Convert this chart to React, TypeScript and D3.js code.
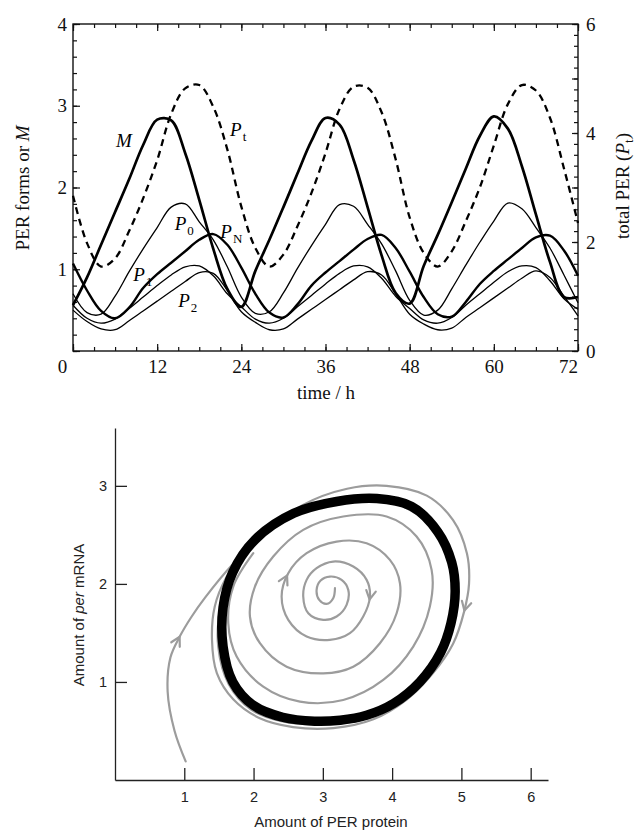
import * as d3 from 'd3';
import { useEffect, useRef } from 'react';

// time axis of the upper panel (hours)
const hours = [0, 2, 4, 6, 8, 10, 12, 14, 16, 18, 20, 22, 24, 26, 28, 30, 32, 34, 36, 38, 40, 42, 44, 46, 48, 50, 52, 54, 56, 58, 60, 62, 64, 66, 68, 70, 72];
const hourLabels = [0, 12, 24, 36, 48, 60, 72];

// per mRNA (left axis)
const mRNA = [0.56, 0.9, 1.3, 1.7, 2.1, 2.52, 2.83, 2.82, 2.42, 1.85, 1.25, 0.76,
  0.54, 0.98, 1.36, 1.76, 2.17, 2.57, 2.85, 2.77, 2.34, 1.76, 1.17, 0.71,
  0.58, 1.04, 1.42, 1.82, 2.23, 2.63, 2.87, 2.72, 2.26, 1.67, 1.09, 0.66, 0.66];
// PER forms (left axis)
const p0 = [0.7, 0.47, 0.45, 0.67, 0.97, 1.25, 1.51, 1.76, 1.8, 1.58, 1.36, 1.03,
  0.66, 0.46, 0.48, 0.71, 1.01, 1.29, 1.55, 1.79, 1.77, 1.55, 1.31, 0.98,
  0.62, 0.44, 0.5, 0.76, 1.05, 1.33, 1.59, 1.81, 1.74, 1.51, 1.26, 0.93, 0.59];
const p1 = [0.56, 0.4, 0.34, 0.39, 0.52, 0.66, 0.8, 0.93, 1.03, 1.04, 0.92, 0.7,
  0.54, 0.39, 0.34, 0.4, 0.54, 0.68, 0.82, 0.95, 1.04, 1.03, 0.89, 0.67,
  0.52, 0.38, 0.34, 0.41, 0.56, 0.7, 0.84, 0.97, 1.04, 1.02, 0.86, 0.64, 0.51];
const p2 = [0.5, 0.36, 0.27, 0.26, 0.37, 0.49, 0.61, 0.73, 0.85, 0.96, 0.95, 0.74,
  0.48, 0.35, 0.26, 0.27, 0.39, 0.51, 0.63, 0.75, 0.87, 0.97, 0.93, 0.7,
  0.45, 0.33, 0.26, 0.28, 0.41, 0.53, 0.65, 0.77, 0.89, 0.98, 0.9, 0.67, 0.43];
const pN = [1.07, 0.74, 0.49, 0.4, 0.53, 0.77, 0.94, 1.08, 1.22, 1.36, 1.43, 1.3,
  1.02, 0.7, 0.47, 0.41, 0.57, 0.8, 0.96, 1.1, 1.24, 1.37, 1.42, 1.26,
  0.97, 0.66, 0.45, 0.42, 0.6, 0.82, 0.98, 1.12, 1.26, 1.39, 1.41, 1.23, 0.92];
// total PER (right axis)
const pTotal = [2.85, 1.98, 1.55, 1.7, 2.2, 2.8, 3.5, 4.35, 4.82, 4.88, 4.48, 3.7,
  2.65, 1.89, 1.55, 1.77, 2.29, 2.9, 3.63, 4.44, 4.85, 4.83, 4.38, 3.52,
  2.45, 1.8, 1.55, 1.83, 2.38, 3.0, 3.77, 4.53, 4.88, 4.78, 4.28, 3.35, 2.35];

// lower panel: phase plane (PER protein, per mRNA)
const cycleProtein = [3.2, 3.78, 4.28, 4.66, 4.86, 4.91, 4.85, 4.7, 4.4, 4.02, 3.63, 3.25, 2.88, 2.42, 2.0, 1.7, 1.56, 1.56, 1.7, 2.02, 2.58];
const cycleMrna = [2.84, 2.87, 2.79, 2.53, 2.22, 1.92, 1.6, 1.3, 1.0, 0.78, 0.66, 0.61, 0.6, 0.64, 0.76, 1.0, 1.36, 1.76, 2.12, 2.45, 2.72];

const outerProtein = [1.02, 0.86, 0.76, 0.8, 0.94, 1.1, 1.3, 1.7, 2.19, 2.7, 3.35, 3.92, 4.5, 4.88, 5.08, 5.11, 5.04, 4.88, 4.59, 4.21, 3.73, 3.15, 2.57, 2.09, 1.71, 1.47, 1.4, 1.44, 1.61, 1.9,
  2.6, 3.78, 4.66, 4.9, 4.75, 4.4, 3.63, 2.88, 2.4, 1.96, 1.64, 1.49, 1.52, 1.66];
const outerMrna = [0.19, 0.5, 0.9, 1.25, 1.47, 1.66, 1.86, 2.2, 2.52, 2.8, 2.97, 3.0, 2.9, 2.65, 2.31, 2.0, 1.72, 1.39, 1.09, 0.82, 0.62, 0.53, 0.54, 0.63, 0.82, 1.09, 1.43, 1.77, 2.07, 2.35,
  2.75, 2.88, 2.52, 1.92, 1.33, 0.96, 0.63, 0.57, 0.6, 0.72, 0.98, 1.36, 1.76, 2.08];

const spiralProtein = [3.175, 3.15, 3.055, 2.948, 2.91, 2.968, 3.102, 3.271, 3.367, 3.343, 3.199, 3.006, 2.79, 2.717, 2.766, 2.91, 3.15, 3.439, 3.632, 3.68, 3.583, 3.391, 3.102, 2.766, 2.501, 2.405, 2.501, 2.766, 3.199, 3.632, 3.968, 4.113, 4.065, 3.824, 3.439, 3.006, 2.477, 2.092, 1.948, 2.02, 2.284, 2.717, 3.294, 3.92, 4.353, 4.57, 4.545, 4.305, 3.872, 3.294, 2.67, 2.14, 1.756, 1.635, 1.707, 1.996];
const spiralMrna = [1.956, 1.854, 1.796, 1.837, 1.939, 2.034, 2.075, 2.041, 1.939, 1.786, 1.667, 1.633, 1.701, 1.871, 2.041, 2.16, 2.228, 2.177, 2.041, 1.871, 1.667, 1.497, 1.429, 1.463, 1.633, 1.871, 2.109, 2.313, 2.432, 2.415, 2.245, 2.007, 1.701, 1.395, 1.156, 1.088, 1.156, 1.395, 1.667, 1.973, 2.279, 2.551, 2.687, 2.687, 2.483, 2.143, 1.769, 1.361, 1.02, 0.816, 0.799, 0.952, 1.259, 1.599, 1.973, 2.313];

// where the direction arrows sit: [protein, mRNA]
const outerArrows = [[0.94, 1.46], [5.04, 1.73]];
const spiralArrows = [[2.5, 2.08], [3.66, 1.84]];

const serif = "'Liberation Serif', 'Times New Roman', serif";
const sans = "'Liberation Sans', Arial, sans-serif";

export default function App() {
  const svgRef = useRef<SVGSVGElement>(null);

  useEffect(() => {
    const svg = d3.select(svgRef.current);
    svg.selectAll('*').remove();

    // ---------- upper panel ----------
    const x = d3.scaleLinear().domain([0, 72]).range([73, 578]);
    const yL = d3.scaleLinear().domain([0, 4]).range([351, 24]);
    const yR = d3.scaleLinear().domain([0, 6]).range([351, 24]);

    const styleAxis = (g: any, font: string, size: number) => {
      g.select('.domain').remove();
      g.selectAll('line').attr('stroke', '#111').attr('stroke-width', 1.2);
      g.selectAll('text').attr('font-family', font).attr('font-size', size).attr('fill', '#111');
    };

    const top = svg.append('g');
    const blank = () => '';

    top.append('g').attr('transform', 'translate(0,351)')
      .call(d3.axisBottom(x).tickValues(d3.range(0, 73, 3)).tickSize(-4).tickFormat(blank))
      .call((g: any) => styleAxis(g, serif, 19));
    top.append('g').attr('transform', 'translate(0,351)')
      .call(d3.axisBottom(x).tickValues(hourLabels).tickSize(-7).tickPadding(8.5).tickFormat(d3.format('d')))
      .call((g: any) => styleAxis(g, serif, 19))
      .call((g: any) => g.selectAll('.tick text').attr('dx', (d: number) => d === 0 ? -11 : d === 72 ? -10 : 0));
    top.append('g').attr('transform', 'translate(0,24)')
      .call(d3.axisTop(x).tickValues(d3.range(0, 73, 3)).tickSize(-4).tickFormat(blank))
      .call((g: any) => styleAxis(g, serif, 19));
    top.append('g').attr('transform', 'translate(0,24)')
      .call(d3.axisTop(x).tickValues(hourLabels).tickSize(-7).tickFormat(blank))
      .call((g: any) => styleAxis(g, serif, 19));

    top.append('g').attr('transform', 'translate(73,0)')
      .call(d3.axisLeft(yL).tickValues(d3.range(0, 4.01, 0.2)).tickSize(-4).tickFormat(blank))
      .call((g: any) => styleAxis(g, serif, 19));
    top.append('g').attr('transform', 'translate(73,0)')
      .call(d3.axisLeft(yL).tickValues([0, 1, 2, 3, 4]).tickSize(-7).tickPadding(6).tickFormat((d: any) => d === 0 ? '' : String(d)))
      .call((g: any) => styleAxis(g, serif, 19));

    top.append('g').attr('transform', 'translate(578,0)')
      .call(d3.axisRight(yR).tickValues(d3.range(0, 6.01, 0.2)).tickSize(-4).tickFormat(blank))
      .call((g: any) => styleAxis(g, serif, 19));
    top.append('g').attr('transform', 'translate(578,0)')
      .call(d3.axisRight(yR).tickValues([0, 1, 2, 3, 4, 5, 6]).tickSize(-6).tickPadding(8).tickFormat((d: any) => d % 2 === 0 ? String(d) : ''))
      .call((g: any) => styleAxis(g, serif, 19));

    top.append('rect')
      .attr('x', x(0)).attr('y', yL(4))
      .attr('width', x(72) - x(0)).attr('height', yL(0) - yL(4))
      .attr('fill', 'none').attr('stroke', '#111').attr('stroke-width', 1.4);

    const lineL = (vals: number[]) => d3.line<number>()
      .x((_, i) => x(hours[i])).y(d => yL(d))
      .curve(d3.curveCatmullRom.alpha(0.5))(vals);
    const lineR = (vals: number[]) => d3.line<number>()
      .x((_, i) => x(hours[i])).y(d => yR(d))
      .curve(d3.curveCatmullRom.alpha(0.5))(vals);

    const series = [
      { vals: p2, w: 1.3 },
      { vals: p1, w: 1.3 },
      { vals: p0, w: 1.3 },
      { vals: pN, w: 2.4 },
      { vals: mRNA, w: 2.7 },
    ];
    series.forEach(s => {
      top.append('path').attr('d', lineL(s.vals)).attr('fill', 'none')
        .attr('stroke', '#000').attr('stroke-width', s.w).attr('stroke-linejoin', 'round');
    });
    top.append('path').attr('d', lineR(pTotal)).attr('fill', 'none')
      .attr('stroke', '#000').attr('stroke-width', 2.3).attr('stroke-dasharray', '7 5');

    // curve labels
    const lab = (t: number, v: number, main: string, sub?: string) => {
      const tx = top.append('text').attr('x', x(t)).attr('y', yL(v))
        .attr('font-family', serif).attr('font-size', 19).attr('font-style', 'italic').attr('fill', '#000')
        .text(main);
      if (sub) {
        tx.append('tspan').attr('dy', 5).attr('dx', 1).attr('font-size', 13).attr('font-style', 'normal').text(sub);
      }
    };
    lab(6.13, 2.49, 'M');
    lab(22.4, 2.63, 'P', 't');
    lab(14.5, 1.48, 'P', '0');
    lab(21.0, 1.38, 'P', 'N');
    lab(8.6, 0.86, 'P', '1');
    lab(15.0, 0.54, 'P', '2');

    // axis titles
    top.append('text').attr('transform', 'translate(29,188) rotate(-90)')
      .attr('text-anchor', 'middle').attr('font-family', serif).attr('font-size', 19).attr('fill', '#111')
      .call((t: any) => {
        t.append('tspan').text('PER forms or ');
        t.append('tspan').attr('font-style', 'italic').text('M');
      });
    top.append('text').attr('transform', 'translate(629,186) rotate(-90)')
      .attr('text-anchor', 'middle').attr('font-family', serif).attr('font-size', 19).attr('fill', '#111')
      .call((t: any) => {
        t.append('tspan').text('total PER (');
        t.append('tspan').attr('font-style', 'italic').text('P');
        t.append('tspan').attr('font-size', 13).attr('dy', 4).text('t');
        t.append('tspan').attr('dy', -4).text(')');
      });
    top.append('text').attr('x', 326).attr('y', 399).attr('text-anchor', 'middle')
      .attr('font-family', serif).attr('font-size', 19).attr('fill', '#111').text('time / h');

    // ---------- lower panel ----------
    const px = d3.scaleLinear().domain([0, 6.25]).range([115, 548]);
    const py = d3.scaleLinear().domain([0, 3.59]).range([780, 428]);
    const bottom = svg.append('g');

    const styleAxis2 = (g: any) => {
      g.select('.domain').attr('stroke', '#222').attr('stroke-width', 1.3);
      g.selectAll('line').attr('stroke', '#222').attr('stroke-width', 1.3);
      g.selectAll('text').attr('font-family', sans).attr('font-size', 14.5).attr('fill', '#222');
    };
    bottom.append('g').attr('transform', `translate(0,${py(0)})`)
      .call(d3.axisBottom(px).tickValues([1, 2, 3, 4, 5, 6]).tickSize(-12).tickSizeOuter(0).tickPadding(11.5).tickFormat(d3.format('d')))
      .call(styleAxis2);
    bottom.append('g').attr('transform', `translate(${px(0)},0)`)
      .call(d3.axisLeft(py).tickValues([1, 2, 3]).tickSize(-12).tickSizeOuter(0).tickPadding(8).tickFormat(d3.format('d')))
      .call(styleAxis2);

    const gray = '#9c9c9c';
    const pathOf = (xs: number[], ys: number[], closed: boolean) =>
      d3.line<number>()
        .x((_, i) => px(xs[i])).y((_, i) => py(ys[i]))
        .curve(closed ? d3.curveCatmullRomClosed.alpha(0.5) : d3.curveCatmullRom.alpha(0.5))(xs);

    const outerPath = bottom.append('path').attr('d', pathOf(outerProtein, outerMrna, false))
      .attr('fill', 'none').attr('stroke', gray).attr('stroke-width', 2.2).attr('stroke-linecap', 'round');
    const spiralPath = bottom.append('path').attr('d', pathOf(spiralProtein, spiralMrna, false))
      .attr('fill', 'none').attr('stroke', gray).attr('stroke-width', 2.2).attr('stroke-linecap', 'round');
    bottom.append('path').attr('d', pathOf(cycleProtein, cycleMrna, true))
      .attr('fill', 'none').attr('stroke', '#000').attr('stroke-width', 9.5);

    const addArrows = (node: SVGPathElement, targets: number[][]) => {
      const L = node.getTotalLength();
      targets.forEach(([tp, tm]) => {
        const tx = px(tp), ty = py(tm);
        let best = 0, bestD = Infinity;
        for (let l = 0; l <= L; l += 0.5) {
          const p = node.getPointAtLength(l);
          const dd = (p.x - tx) ** 2 + (p.y - ty) ** 2;
          if (dd < bestD) { bestD = dd; best = l; }
        }
        const a = node.getPointAtLength(Math.max(0, best - 3));
        const b = node.getPointAtLength(Math.min(L, best + 3));
        const c = node.getPointAtLength(best);
        const ang = Math.atan2(b.y - a.y, b.x - a.x);
        const len = 10, spread = 0.5;
        const arm = (s: number) => [c.x - len * Math.cos(ang + s), c.y - len * Math.sin(ang + s)];
        const [x1, y1] = arm(spread);
        const [x2, y2] = arm(-spread);
        bottom.append('path')
          .attr('d', `M${x1},${y1}L${c.x},${c.y}L${x2},${y2}`)
          .attr('fill', 'none').attr('stroke', gray).attr('stroke-width', 2.2)
          .attr('stroke-linejoin', 'miter').attr('stroke-linecap', 'round');
      });
    };
    addArrows(outerPath.node() as SVGPathElement, outerArrows);
    addArrows(spiralPath.node() as SVGPathElement, spiralArrows);

    bottom.append('text').attr('x', 331).attr('y', 827).attr('text-anchor', 'middle')
      .attr('font-family', sans).attr('font-size', 15).attr('fill', '#222').text('Amount of PER protein');
    bottom.append('text').attr('transform', 'translate(84,615) rotate(-90)')
      .attr('text-anchor', 'middle').attr('font-family', sans).attr('font-size', 15).attr('fill', '#222')
      .call((t: any) => {
        t.append('tspan').text('Amount of ');
        t.append('tspan').attr('font-style', 'italic').text('per');
        t.append('tspan').text(' mRNA');
      });
  }, []);

  return (
    <svg ref={svgRef} width={638} height={832}
      style={{ position: 'absolute', left: 0, top: 0, background: '#fff' }} />
  );
}
